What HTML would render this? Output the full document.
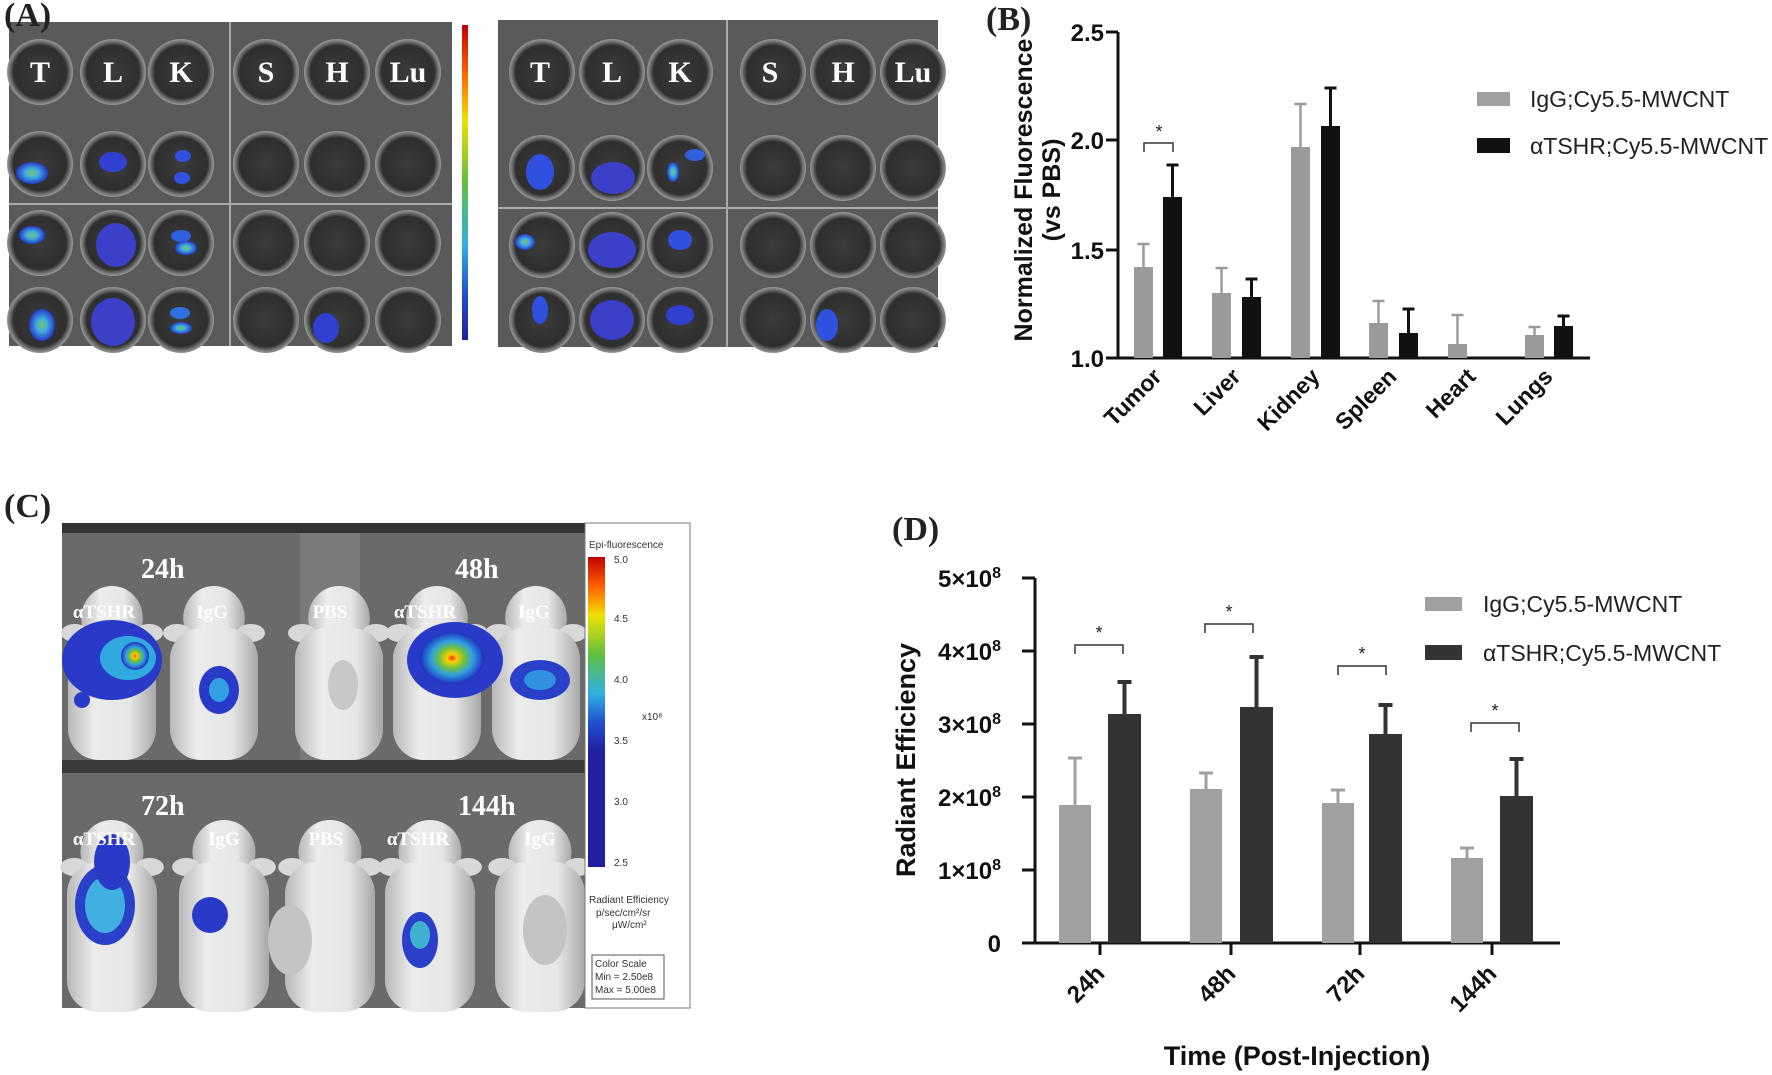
<!DOCTYPE html>
<html><head><meta charset="utf-8"><style>
html,body{margin:0;padding:0;background:#fff;}
svg{display:block;}
.ax{font-family:"Liberation Sans",Arial,sans-serif;font-weight:bold;fill:#111;}
.lg{font-family:"Liberation Sans",Arial,sans-serif;fill:#222;font-size:23px;}
.pl{font-family:"Liberation Serif",serif;font-weight:bold;fill:#222;font-size:34px;}
.wl{font-family:"Liberation Serif",serif;font-weight:bold;fill:#fff;}
</style></head><body>
<svg id="s" width="1772" height="1075" viewBox="0 0 1772 1075" xmlns="http://www.w3.org/2000/svg">
<defs>
<radialGradient id="well" cx="50%" cy="50%" r="50%">
<stop offset="0" stop-color="#3c3c3c"/><stop offset="0.8" stop-color="#2e2e2e"/><stop offset="0.93" stop-color="#777"/><stop offset="1" stop-color="#999"/>
</radialGradient>
<radialGradient id="hot" cx="50%" cy="50%" r="50%">
<stop offset="0" stop-color="#ff2000"/><stop offset="0.15" stop-color="#ffd000"/><stop offset="0.4" stop-color="#70c040"/><stop offset="0.65" stop-color="#30a0e0"/><stop offset="1" stop-color="#2030c0"/>
</radialGradient>
<radialGradient id="cy" cx="50%" cy="50%" r="50%">
<stop offset="0" stop-color="#80c060"/><stop offset="0.4" stop-color="#40b0e0"/><stop offset="1" stop-color="#2538c8"/>
</radialGradient>
<linearGradient id="cbar" x1="0" y1="0" x2="0" y2="1">
<stop offset="0" stop-color="#c00000"/><stop offset="0.15" stop-color="#ff6000"/><stop offset="0.3" stop-color="#f0e000"/><stop offset="0.5" stop-color="#60c040"/><stop offset="0.7" stop-color="#30b0e0"/><stop offset="0.85" stop-color="#2050d0"/><stop offset="1" stop-color="#2020a0"/>
</linearGradient>
<linearGradient id="mouse" x1="0" y1="0" x2="1" y2="0">
<stop offset="0" stop-color="#b8b8b8"/><stop offset="0.3" stop-color="#ececec"/><stop offset="0.7" stop-color="#e6e6e6"/><stop offset="1" stop-color="#a8a8a8"/>
</linearGradient>
</defs>

<!-- Panel A -->
<rect x="9" y="22" width="443" height="324" fill="#5a5a5a"/>
<rect x="498" y="20" width="440" height="327" fill="#5a5a5a"/>
<line x1="230" y1="22" x2="230" y2="346" stroke="#aaa" stroke-width="2"/>
<line x1="9" y1="204" x2="452" y2="204" stroke="#aaa" stroke-width="2"/>
<line x1="727" y1="20" x2="727" y2="347" stroke="#aaa" stroke-width="2"/>
<line x1="498" y1="208" x2="938" y2="208" stroke="#aaa" stroke-width="2"/>
<g id="wells"></g>
<rect x="462" y="25" width="6" height="315" fill="url(#cbar)"/>
<text class="pl" x="4" y="26">(A)</text>
<g class="wl" font-size="30">
<text x="40" y="82" text-anchor="middle">T</text><text x="113" y="82" text-anchor="middle">L</text><text x="181" y="82" text-anchor="middle">K</text>
<text x="266" y="82" text-anchor="middle">S</text><text x="337" y="82" text-anchor="middle">H</text><text x="408" y="82" text-anchor="middle">Lu</text>
<text x="540" y="82" text-anchor="middle">T</text><text x="612" y="82" text-anchor="middle">L</text><text x="680" y="82" text-anchor="middle">K</text>
<text x="770" y="82" text-anchor="middle">S</text><text x="843" y="82" text-anchor="middle">H</text><text x="913" y="82" text-anchor="middle">Lu</text>
</g>

<!-- Panel B -->
<text class="pl" x="986" y="30">(B)</text>
<g stroke="#111" stroke-width="3" fill="none">
<polyline points="1118,32 1118,358 1590,358"/>
<line x1="1106" y1="32" x2="1118" y2="32"/><line x1="1106" y1="140" x2="1118" y2="140"/>
<line x1="1106" y1="250" x2="1118" y2="250"/><line x1="1106" y1="358" x2="1118" y2="358"/>
</g>
<g class="ax" font-size="24" text-anchor="end">
<text x="1104" y="41">2.5</text><text x="1104" y="149">2.0</text><text x="1104" y="259">1.5</text><text x="1104" y="367">1.0</text>
</g>
<g class="ax" font-size="25" text-anchor="middle">
<text transform="translate(1032,190) rotate(-90)">Normalized Fluorescence</text>
<text transform="translate(1060,190) rotate(-90)">(vs PBS)</text>
</g>
<g id="barsB"></g>
<g stroke="#333" stroke-width="1.5" fill="none"><polyline points="1144,152 1144,143 1173,143 1173,152"/></g>
<text x="1159" y="138" font-family="Liberation Sans" font-size="18" text-anchor="middle" fill="#222">*</text>
<g class="ax" font-size="23" text-anchor="end">
<text transform="translate(1163,378) rotate(-45)">Tumor</text>
<text transform="translate(1242,378) rotate(-45)">Liver</text>
<text transform="translate(1321,378) rotate(-45)">Kidney</text>
<text transform="translate(1398,378) rotate(-45)">Spleen</text>
<text transform="translate(1477,378) rotate(-45)">Heart</text>
<text transform="translate(1554,378) rotate(-45)">Lungs</text>
</g>
<rect x="1477" y="92" width="33" height="14" fill="#a0a0a0"/>
<rect x="1477" y="138" width="33" height="15" fill="#111"/>
<text class="lg" x="1530" y="107">IgG;Cy5.5-MWCNT</text>
<text class="lg" x="1530" y="154">αTSHR;Cy5.5-MWCNT</text>

<!-- Panel C -->
<text class="pl" x="4" y="517">(C)</text>
<rect x="62" y="523" width="523" height="485" fill="#6a6a6a"/>
<rect x="62" y="523" width="523" height="10" fill="#333"/>
<rect x="62" y="760" width="523" height="13" fill="#3a3a3a"/>
<rect x="300" y="533" width="60" height="227" fill="#7a7a7a"/>
<g id="mice"></g>
<rect x="585" y="523" width="105" height="485" fill="#fff" stroke="#777" stroke-width="1"/>
<rect x="588" y="557" width="17" height="195" fill="url(#cbar)"/>
<g font-family="Liberation Sans" font-size="10" fill="#333">
<text x="589" y="548">Epi-fluorescence</text>
<text x="614" y="563">5.0</text><text x="614" y="622">4.5</text><text x="614" y="683">4.0</text>
<text x="614" y="744">3.5</text><text x="614" y="805">3.0</text><text x="614" y="866">2.5</text>
<text x="642" y="720">x10⁸</text>
<text x="589" y="903">Radiant Efficiency</text>
<text x="596" y="916">p/sec/cm²/sr</text><text x="612" y="928">μW/cm²</text>
</g>
<rect x="592" y="955" width="72" height="44" fill="none" stroke="#555"/>
<g font-family="Liberation Sans" font-size="10" fill="#333">
<text x="595" y="967">Color Scale</text><text x="595" y="980">Min = 2.50e8</text><text x="595" y="993">Max = 5.00e8</text>
</g>
<rect x="588" y="752" width="17" height="115" fill="#2020a0"/>
<g class="wl">
<text x="141" y="578" font-size="28">24h</text><text x="455" y="578" font-size="28">48h</text>
<text x="141" y="815" font-size="28">72h</text><text x="458" y="815" font-size="28">144h</text>
<g font-size="19" text-anchor="middle">
<text x="104" y="618">αTSHR</text><text x="212" y="618">IgG</text><text x="330" y="618">PBS</text><text x="425" y="618">αTSHR</text><text x="534" y="618">IgG</text>
<text x="104" y="845">αTSHR</text><text x="224" y="845">IgG</text><text x="326" y="845">PBS</text><text x="418" y="845">αTSHR</text><text x="540" y="845">IgG</text>
</g></g>

<!-- Panel D -->
<text class="pl" x="892" y="540">(D)</text>
<g stroke="#111" stroke-width="3" fill="none">
<polyline points="1035,578 1035,943 1560,943"/>
<line x1="1022" y1="578" x2="1035" y2="578"/><line x1="1022" y1="651" x2="1035" y2="651"/>
<line x1="1022" y1="724" x2="1035" y2="724"/><line x1="1022" y1="797" x2="1035" y2="797"/>
<line x1="1022" y1="870" x2="1035" y2="870"/><line x1="1022" y1="943" x2="1035" y2="943"/>
<line x1="1100" y1="943" x2="1100" y2="955"/><line x1="1231" y1="943" x2="1231" y2="955"/>
<line x1="1360" y1="943" x2="1360" y2="955"/><line x1="1492" y1="943" x2="1492" y2="955"/>
</g>
<g class="ax" font-size="24" text-anchor="end">
<text x="1001" y="587">5×10<tspan dy="-9" font-size="16">8</tspan></text>
<text x="1001" y="660">4×10<tspan dy="-9" font-size="16">8</tspan></text>
<text x="1001" y="733">3×10<tspan dy="-9" font-size="16">8</tspan></text>
<text x="1001" y="806">2×10<tspan dy="-9" font-size="16">8</tspan></text>
<text x="1001" y="879">1×10<tspan dy="-9" font-size="16">8</tspan></text>
<text x="1001" y="952">0</text>
</g>
<text class="ax" font-size="27" text-anchor="middle" transform="translate(915,760) rotate(-90)">Radiant Efficiency</text>
<g id="barsD"></g>
<g class="ax" font-size="24" text-anchor="end">
<text transform="translate(1106,975) rotate(-45)">24h</text>
<text transform="translate(1237,975) rotate(-45)">48h</text>
<text transform="translate(1366,975) rotate(-45)">72h</text>
<text transform="translate(1498,975) rotate(-45)">144h</text>
</g>
<text class="ax" font-size="27" text-anchor="middle" x="1297" y="1065">Time (Post-Injection)</text>
<rect x="1425" y="597" width="37" height="14" fill="#a0a0a2"/>
<rect x="1425" y="645" width="37" height="15" fill="#333"/>
<text class="lg" x="1483" y="612">IgG;Cy5.5-MWCNT</text>
<text class="lg" x="1483" y="661">αTSHR;Cy5.5-MWCNT</text>
</svg>
<script>
var NS="http://www.w3.org/2000/svg";
function el(p,t,a){var e=document.createElementNS(NS,t);for(var k in a)e.setAttribute(k,a[k]);p.appendChild(e);return e;}
var W=document.getElementById("wells");
var cols=[[40,113,181,266,337,408],[542,612,680,773,843,913]];
var rows=[[72,164,243,320],[72,168,245,320]];
for(var p=0;p<2;p++)for(var i=0;i<6;i++)for(var j=0;j<4;j++)el(W,"circle",{cx:cols[p][i],cy:rows[p][j],r:33,fill:"url(#well)"});
var blobs=[[32,173,16,11,"url(#cy)"],[113,162,14,10,"#3040d0"],[183,156,8,6,"#3050e0"],[182,178,8,6,"#3050e0"],
[32,235,13,9,"url(#cy)"],[116,245,20,22,"#3a40c8"],[181,236,10,6,"#3060e0"],[186,248,11,7,"url(#cy)"],
[42,325,13,16,"url(#cy)"],[113,322,22,24,"#3a40c8"],[180,313,10,6,"#3070e0"],[181,328,11,6,"url(#cy)"],[326,328,13,15,"#3040d0"],
[540,172,14,18,"#3050e0"],[613,178,22,16,"#3a40c8"],[673,172,6,10,"url(#cy)"],[695,155,10,6,"#3060e0"],
[525,242,10,8,"url(#cy)"],[612,250,24,18,"#3a40c8"],[680,240,12,10,"#3050e0"],
[540,310,8,14,"#3050e0"],[612,320,22,20,"#3a40c8"],[680,315,14,10,"#3040d0"],[827,325,11,16,"#3050e0"]];
blobs.forEach(function(b){el(W,"ellipse",{cx:b[0],cy:b[1],rx:b[2],ry:b[3],fill:b[4]});});
var M=document.getElementById("mice");
function mouse(cx,top,bot,w){
 el(M,"ellipse",{cx:cx,cy:top+30,rx:w*0.35,ry:32,fill:"url(#mouse)"});
 el(M,"ellipse",{cx:cx-w*0.42,cy:top+45,rx:14,ry:9,fill:"#d8d8d8"});
 el(M,"ellipse",{cx:cx+w*0.42,cy:top+45,rx:14,ry:9,fill:"#d8d8d8"});
 el(M,"rect",{x:cx-w/2,y:top+40,width:w,height:bot-top-40,rx:w*0.35,fill:"url(#mouse)"});
}
[112,214,339,437,536].forEach(function(x){mouse(x,588,760,88);});
[112,224,330,430,540].forEach(function(x){mouse(x,822,1012,90);});
var sp=[[112,660,50,40,"#2a3ac8"],[128,658,28,22,"#30a8e0"],[135,656,14,14,"url(#hot)"],[219,690,20,24,"#2a3ac8"],[219,690,10,12,"#30a0e0"],
[455,660,48,38,"#2a3ac8"],[452,658,32,26,"url(#hot)"],[540,680,30,20,"#2a40c8"],[540,680,16,10,"#3090e0"],
[343,685,15,25,"#c8c8c8"],[82,700,8,8,"#2a3ac8"],
[105,905,30,40,"#2a40c8"],[105,905,20,28,"#40b0e0"],[112,862,18,28,"#2a3ac8"],[210,915,18,18,"#2a3ac8"],[420,940,18,28,"#2a40c8"],[420,935,10,14,"#40b0d0"],
[290,940,22,35,"#c4c4c4"],[545,930,22,35,"#c4c4c4"]];
sp.forEach(function(b){el(M,"ellipse",{cx:b[0],cy:b[1],rx:b[2],ry:b[3],fill:b[4]});});
function bars(g,data,w,col,cap,sw){
 var G=document.getElementById(g);
 data.forEach(function(d){var x=d[0],top=d[1],err=d[2],base=d[3];
  if(err!=null){el(G,"line",{x1:x+w/2,y1:top,x2:x+w/2,y2:err,stroke:col,"stroke-width":sw});
   el(G,"line",{x1:x+w/2-cap,y1:err,x2:x+w/2+cap,y2:err,stroke:col,"stroke-width":sw});}
  el(G,"rect",{x:x,y:top,width:w,height:base-top,fill:col});});
}
bars("barsB",[[1134,267,244,358],[1212,293,268,358],[1291,147,104,358],[1369,323,301,358],[1448,344,315,358],[1525,335,327,358]],19,"#9a9a9a",6,2.5);
bars("barsB",[[1163,197,165,358],[1242,297,279,358],[1321,126,88,358],[1399,333,309,358],[1554,326,316,358]],19,"#111",6,3);
bars("barsD",[[1059,805,758,943],[1190,789,773,943],[1322,803,790,943],[1451,858,848,943]],32,"#a0a0a2",7,3);
bars("barsD",[[1108,714,682,943],[1240,707,657,943],[1369,734,705,943],[1500,796,759,943]],33,"#333",7,4);
var D=document.getElementById("barsD");
[[1075,1123,645],[1205,1253,624],[1338,1386,666],[1471,1519,723]].forEach(function(b){
 el(D,"polyline",{points:b[0]+","+(b[2]+9)+" "+b[0]+","+b[2]+" "+b[1]+","+b[2]+" "+b[1]+","+(b[2]+9),fill:"none",stroke:"#333","stroke-width":1.5});
 var t=el(D,"text",{x:(b[0]+b[1])/2,y:b[2]-6,"font-family":"Liberation Sans","font-size":18,"text-anchor":"middle",fill:"#222"});t.textContent="*";
});
</script>
</body></html>
